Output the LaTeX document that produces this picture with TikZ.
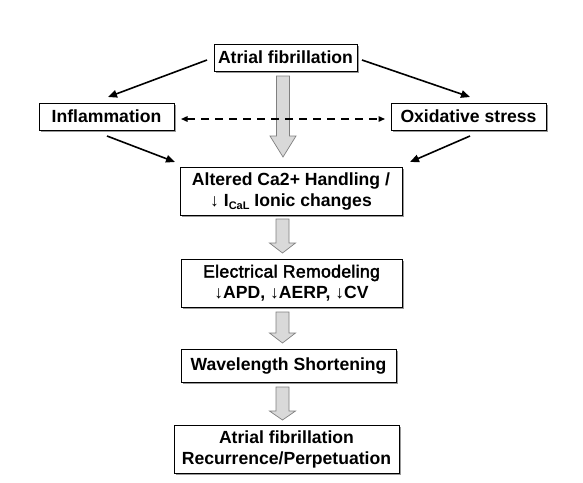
\documentclass[tikz,border=0pt]{standalone}
\usepackage{fontspec}
\setmainfont{Liberation Sans}
\newfontfamily\semifont[FakeBold=2.5,LetterSpace=2]{Liberation Sans}
\usetikzlibrary{arrows.meta,shadows,calc}
\newcommand\fatarrow[4]{%
  \draw[hollow] ({#1-6.5},#2) -- ({#1+6.5},#2) -- ({#1+6.5},#3) -- ({#1+13},#3)
    -- (#1,#4) -- ({#1-13},#3) -- ({#1-6.5},#3) -- cycle;}
\begin{document}
\begin{tikzpicture}[x=1pt,y=-1pt,
  box/.style={draw=black, line width=0.8pt, fill=white, align=center, inner sep=0pt,
    font=\fontsize{17.6}{21}\selectfont\bfseries,
    drop shadow={shadow xshift=1.5pt,shadow yshift=-1.5pt,fill=black!40,opacity=1}},
  link/.style={line width=1.6pt, -{Triangle[length=9pt,width=7.5pt]}},
  dlink/.style={line width=1.4pt, dash pattern=on 8pt off 6pt,
    {Triangle[length=6.5pt,width=5.5pt]}-{Triangle[length=6.5pt,width=5.5pt]}},
  hollow/.style={fill=black!15, draw=black!50, line width=0.7pt}]
\useasboundingbox (0,0) rectangle (583,482);
\fill[white] (0,0) rectangle (583,482);

\node[box, minimum width=143pt, minimum height=27pt] (af) at (285.5,57.5) {Atrial fibrillation};
\node[box, minimum width=135pt, minimum height=27pt] (infl) at (106.5,116.5) {Inflammation};
\node[box, minimum width=155pt, minimum height=27pt] (ox) at (468.5,116.5) {Oxidative stress};
\node[box, minimum width=222pt, minimum height=48pt] (alt) at (291,191)
  {Altered Ca2+ Handling /\\ ↓ I\raisebox{-3.5pt}{\fontsize{11}{11}\selectfont CaL} Ionic changes};
\node[box, minimum width=221pt, minimum height=48pt] (elec) at (291.5,283)
  {{\semifont\mdseries Electrical Remodeling}\\ ↓APD, ↓AERP, ↓CV};
\node[box, minimum width=215pt, minimum height=33pt] (wave) at (288.5,365.5) {Wavelength Shortening};
\node[box, minimum width=225pt, minimum height=48pt] (final) at (286.5,449)
  {Atrial fibrillation\\Recurrence/Perpetuation};

\fatarrow{283}{76}{136}{157}
\fatarrow{282.5}{219}{243}{253}
\fatarrow{282.5}{312}{333}{343}
\fatarrow{282.5}{387}{411}{420}

\coordinate (s1) at (207,60);  \coordinate (e1) at (108,97);
\coordinate (s2) at (362,60);  \coordinate (e2) at (470,97);
\coordinate (s3) at (107,136); \coordinate (e3) at (175,162);
\coordinate (s4) at (470,136); \coordinate (e4) at (410,162);
\coordinate (d1) at (181,119); \coordinate (d2) at (385,119);

\draw[link] (s1) -- (e1);
\draw[link] (s2) -- (e2);
\draw[link] (s3) -- (e3);
\draw[link] (s4) -- (e4);
\draw[dlink] (d1) -- (d2);
\end{tikzpicture}
\end{document}
